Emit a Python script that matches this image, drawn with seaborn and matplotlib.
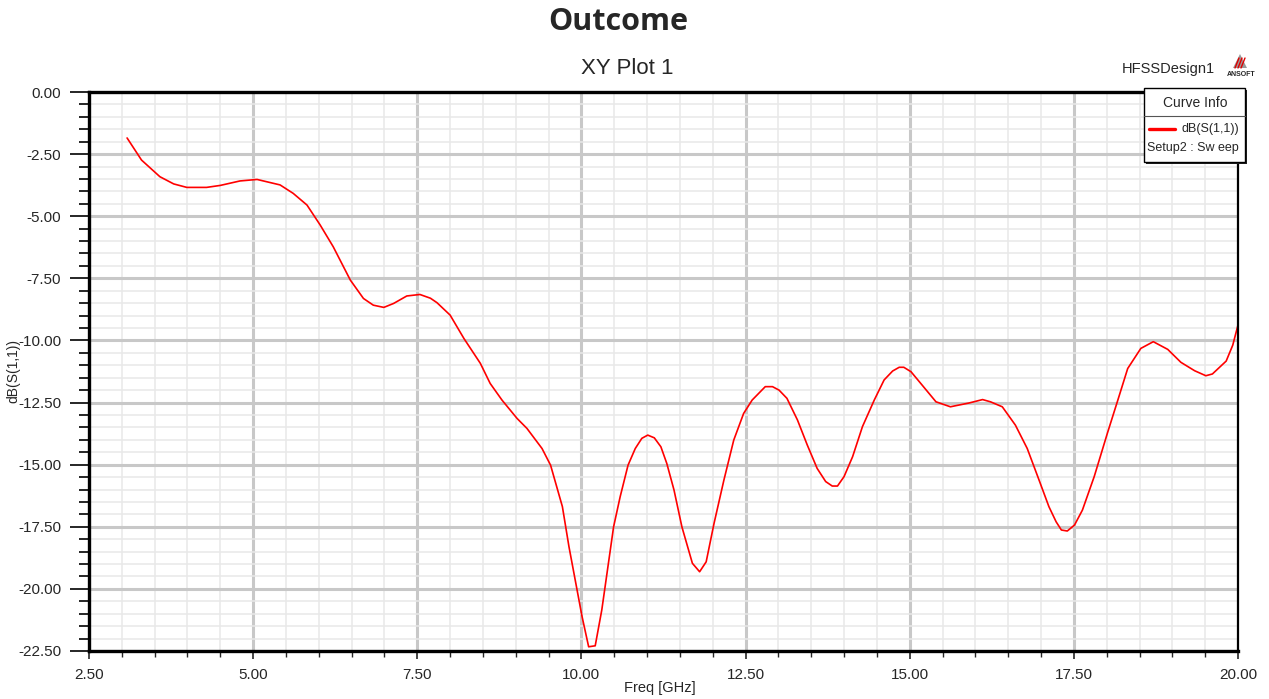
import numpy as np
import pandas as pd
import matplotlib
matplotlib.use("Agg")
import matplotlib.pyplot as plt
import seaborn as sns
from matplotlib.patches import Rectangle, Polygon
from matplotlib.lines import Line2D

# =========================
# DATA
# =========================
freq_ghz = [3.08, 3.30, 3.58, 3.79, 3.99, 4.29, 4.50, 4.80, 5.06, 5.41,
            5.61, 5.82, 6.02, 6.22, 6.48, 6.68, 6.83, 6.99, 7.14, 7.34,
            7.54, 7.70, 7.80, 8.00, 8.21, 8.46, 8.61, 8.79, 9.02, 9.17,
            9.40, 9.53, 9.71, 9.81, 10.01, 10.11, 10.21, 10.31, 10.49, 10.59,
            10.71, 10.82, 10.92, 11.01, 11.11, 11.21, 11.30, 11.41, 11.53, 11.69,
            11.80, 11.90, 12.02, 12.17, 12.32, 12.47, 12.60, 12.80, 12.91, 13.01,
            13.13, 13.29, 13.44, 13.59, 13.72, 13.82, 13.90, 14.00, 14.13, 14.28,
            14.46, 14.61, 14.74, 14.84, 14.91, 15.02, 15.19, 15.40, 15.62, 15.75,
            15.90, 16.11, 16.23, 16.41, 16.61, 16.79, 16.97, 17.12, 17.23, 17.31,
            17.40, 17.51, 17.63, 17.81, 18.01, 18.17, 18.32, 18.52, 18.71, 18.93,
            19.13, 19.34, 19.51, 19.61, 19.82, 19.92, 20.00]
s11_db = [-1.85, -2.74, -3.41, -3.70, -3.84, -3.84, -3.76, -3.58, -3.52, -3.74,
          -4.08, -4.55, -5.35, -6.23, -7.57, -8.31, -8.58, -8.67, -8.51, -8.21,
          -8.15, -8.30, -8.48, -8.98, -9.92, -10.92, -11.73, -12.40, -13.14, -13.54,
          -14.35, -15.02, -16.69, -18.30, -21.12, -22.33, -22.29, -20.85, -17.50, -16.29,
          -15.02, -14.35, -13.94, -13.81, -13.92, -14.28, -14.95, -16.02, -17.50, -18.97,
          -19.31, -18.91, -17.36, -15.62, -14.01, -12.94, -12.40, -11.86, -11.86, -12.00,
          -12.33, -13.20, -14.21, -15.15, -15.68, -15.86, -15.86, -15.48, -14.68, -13.47,
          -12.40, -11.59, -11.23, -11.08, -11.08, -11.26, -11.80, -12.47, -12.67, -12.60,
          -12.52, -12.38, -12.47, -12.67, -13.41, -14.35, -15.62, -16.69, -17.30, -17.63,
          -17.67, -17.43, -16.83, -15.48, -13.74, -12.40, -11.13, -10.32, -10.05, -10.36,
          -10.88, -11.22, -11.42, -11.35, -10.83, -10.19, -9.38]

x_ticks = [2.5, 5.0, 7.5, 10.0, 12.5, 15.0, 17.5, 20.0]
y_ticks = [0.0, -2.5, -5.0, -7.5, -10.0, -12.5, -15.0, -17.5, -20.0, -22.5]

df = pd.DataFrame({"Freq [GHz]": freq_ghz, "dB(S(1,1))": s11_db})

# =========================
# STYLE
# =========================
sns.set_style("white")
plt.rcParams["font.family"] = ["Liberation Sans", "DejaVu Sans"]

W, H = 1269, 699
fig = plt.figure(figsize=(W / 100, H / 100), dpi=100)
ax = fig.add_axes([89 / W, 1 - 651 / H, (1238 - 89) / W, (651 - 92) / H])

sns.lineplot(data=df, x="Freq [GHz]", y="dB(S(1,1))", ax=ax,
             color="#ff0000", linewidth=1.2, sort=False, legend=False)

ax.set_xlim(2.5, 20.0)
ax.set_ylim(-22.5, 0.0)
ax.set_xticks(x_ticks)
ax.set_yticks(y_ticks)
ax.set_xticks(np.arange(2.5, 20.01, 0.5), minor=True)
ax.set_yticks(np.arange(-22.5, 0.01, 0.5), minor=True)
ax.set_xticklabels([f"{v:.2f}" for v in x_ticks])
ax.set_yticklabels([f"{v:.2f}" for v in y_ticks])

ax.grid(True, which="major", color="#c8c8c8", linewidth=2.2)
ax.grid(True, which="minor", color="#e8e8e8", linewidth=1.1)
ax.set_axisbelow(True)

ax.tick_params(axis="y", which="major", direction="out", length=14, width=1.4,
               pad=6, labelsize=11, left=True)
ax.tick_params(axis="y", which="minor", direction="out", length=7, width=1.4, left=True)
ax.tick_params(axis="x", which="major", direction="out", length=6, width=1.2,
               pad=6, labelsize=11, bottom=True)
ax.tick_params(axis="x", which="minor", direction="out", length=4, width=1.0, bottom=True)

for side in ["left", "bottom", "top"]:
    ax.spines[side].set_color("black")
    ax.spines[side].set_linewidth(2.4)
ax.spines["right"].set_color("black")
ax.spines["right"].set_linewidth(1.6)

ax.set_xlabel("Freq [GHz]", fontsize=10.5)
ax.xaxis.set_label_coords((660 - 89) / 1149, -(681 - 651) / 559)
ax.set_ylabel("dB(S(1,1))", fontsize=10)
ax.yaxis.set_label_coords(-(89 - 20) / 1149, 0.5)

# titles
fig.text(618 / W, 1 - 22 / H, "Outcome", ha="center", va="center",
         fontsize=22, fontweight="bold", family=["Open Sans", "DejaVu Sans"])
fig.text(627 / W, 1 - 69 / H, "XY Plot 1", ha="center", va="center", fontsize=16)
fig.text(1168 / W, 1 - 69 / H, "HFSSDesign1", ha="center", va="center", fontsize=10.5)

# small ANSOFT logo
fig.patches.append(Polygon([[1233 / W, 1 - 68 / H], [1247 / W, 1 - 68 / H], [1240 / W, 1 - 54 / H]],
                           closed=True, transform=fig.transFigure, facecolor="#9a9a9a",
                           edgecolor="none", zorder=5))
for k in range(3):
    x0 = 1235 + 3 * k
    fig.lines.append(Line2D([x0 / W, (x0 + 4) / W], [1 - 68 / H, 1 - 58 / H],
                            transform=fig.transFigure, color="#e00000", linewidth=1.0, zorder=6))
fig.text(1241 / W, 1 - 75 / H, "ANSOFT", ha="center", va="center", fontsize=5,
         fontweight="bold")

# Curve Info box
bx0, bx1, by0, by1 = 1144, 1245, 88, 162
fig.patches.append(Rectangle(((bx0 + 2) / W, 1 - (by1 + 2) / H), (bx1 - bx0) / W, (by1 - by0) / H,
                             transform=fig.transFigure, facecolor="#202020", edgecolor="none", zorder=7))
fig.patches.append(Rectangle((bx0 / W, 1 - by1 / H), (bx1 - bx0) / W, (by1 - by0) / H,
                             transform=fig.transFigure, facecolor="white", edgecolor="black",
                             linewidth=1.0, zorder=8))
fig.lines.append(Line2D([bx0 / W, bx1 / W], [1 - 116 / H, 1 - 116 / H], transform=fig.transFigure,
                        color="#555555", linewidth=0.8, zorder=9))
fig.text(1195 / W, 1 - 103 / H, "Curve Info", ha="center", va="center", fontsize=10, zorder=9)
fig.lines.append(Line2D([1149 / W, 1175 / W], [1 - 129 / H, 1 - 129 / H], transform=fig.transFigure,
                        color="#ff0000", linewidth=2.4, zorder=9))
fig.text(1239 / W, 1 - 129 / H, "dB(S(1,1))", ha="right", va="center", fontsize=9, zorder=9)
fig.text(1147 / W, 1 - 148 / H, "Setup2 : Sw eep", ha="left", va="center", fontsize=9, zorder=9)

fig.savefig("out.png", dpi=100)
print("Saved: out.png")
